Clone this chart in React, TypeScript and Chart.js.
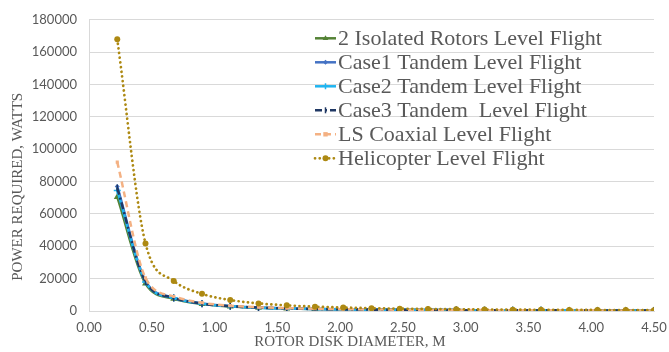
import React, { useEffect, useRef } from "react";
import { Chart, registerables } from "chart.js";

Chart.register(...registerables);

// Rotor disk diameter, m
const diameters = [
  0.225, 0.45, 0.675, 0.9, 1.125, 1.35, 1.575, 1.8, 2.025, 2.25,
  2.475, 2.7, 2.925, 3.15, 3.375, 3.6, 3.825, 4.05, 4.275, 4.5,
];

// Power required, W
const isolatedRotors = [
  70500, 17000, 7600, 4300, 2800, 2000, 1500, 1200, 980, 820,
  700, 610, 540, 480, 440, 400, 370, 350, 330, 310,
];
const case1Tandem = [
  77000, 18500, 8200, 4600, 3000, 2100, 1600, 1250, 1010, 840,
  720, 620, 550, 490, 450, 410, 380, 350, 330, 310,
];
const case2Tandem = [
  74500, 18000, 8000, 4500, 2900, 2050, 1550, 1230, 1000, 830,
  710, 615, 545, 485, 445, 405, 375, 350, 330, 310,
];
const case3Tandem = [
  76000, 18300, 8100, 4550, 2950, 2080, 1570, 1240, 1005, 835,
  715, 618, 548, 488, 448, 408, 378, 352, 332, 312,
];
const lsCoaxial = [
  92000, 20500, 9000, 5100, 3300, 2350, 1780, 1400, 1130, 940,
  800, 690, 610, 545, 490, 450, 415, 385, 360, 340,
];
const helicopter = [
  168000, 41800, 18600, 10600, 6800, 4700, 3500, 2700, 2150, 1750,
  1450, 1250, 1080, 950, 840, 760, 690, 630, 580, 540,
];

const seriesNames = [
  "2 Isolated Rotors Level Flight",
  "Case1 Tandem Level Flight",
  "Case2 Tandem Level Flight",
  "Case3 Tandem  Level Flight",
  "LS Coaxial Level Flight",
  "Helicopter Level Flight",
];
const seriesValues = [isolatedRotors, case1Tandem, case2Tandem, case3Tandem, lsCoaxial, helicopter];

const xTitle = "ROTOR DISK DIAMETER, M";
const yTitle = "POWER REQUIRED, WATTS";

type Style = {
  color: string;
  dash: number[];
  width: number;
  cap: CanvasLineCap;
  point: string;
  radius: number;
  rotation?: number;
};

const styles: Style[] = [
  { color: "#548235", dash: [], width: 2.5, cap: "butt", point: "triangle", radius: 4 },
  { color: "#4472C4", dash: [], width: 2.5, cap: "butt", point: "rectRot", radius: 2.5 },
  { color: "#1FB4F0", dash: [], width: 2.5, cap: "butt", point: "cross", radius: 3.5 },
  { color: "#203864", dash: [7, 3, 2, 3], width: 2.5, cap: "butt", point: "line", radius: 3.5, rotation: 90 },
  { color: "#F4B183", dash: [6, 4], width: 2.5, cap: "butt", point: "rect", radius: 2.2 },
  { color: "#AD8912", dash: [0.1, 4.6], width: 2.7, cap: "round", point: "circle", radius: 3 },
];

const greyText = "#595959";
const gridColor = "#D9D9D9";

function drawMarker(ctx: CanvasRenderingContext2D, s: Style, x: number, y: number) {
  const r = s.radius;
  ctx.save();
  ctx.setLineDash([]);
  ctx.fillStyle = s.color;
  ctx.strokeStyle = s.color;
  ctx.lineWidth = 1.5;
  ctx.beginPath();
  switch (s.point) {
    case "triangle":
      ctx.moveTo(x, y - r);
      ctx.lineTo(x + r * 0.95, y + r * 0.6);
      ctx.lineTo(x - r * 0.95, y + r * 0.6);
      ctx.closePath();
      ctx.fill();
      break;
    case "rectRot":
      ctx.moveTo(x, y - r);
      ctx.lineTo(x + r, y);
      ctx.lineTo(x, y + r);
      ctx.lineTo(x - r, y);
      ctx.closePath();
      ctx.fill();
      break;
    case "cross":
      ctx.moveTo(x - r, y);
      ctx.lineTo(x + r, y);
      ctx.moveTo(x, y - r);
      ctx.lineTo(x, y + r);
      ctx.stroke();
      break;
    case "line":
      ctx.moveTo(x, y - r);
      ctx.lineTo(x, y + r);
      ctx.stroke();
      break;
    case "rect":
      ctx.fillRect(x - r, y - r, r * 2, r * 2);
      break;
    default:
      ctx.arc(x, y, r, 0, Math.PI * 2);
      ctx.fill();
  }
  ctx.restore();
}

// Legend drawn inside the plot area, top-right
const insideLegend = {
  id: "insideLegend",
  afterDraw(chart: Chart) {
    const ctx = chart.ctx;
    const area = chart.chartArea;
    const x0 = area.left + 226;
    const y0 = area.top + 18.5;
    const step = 24;
    ctx.save();
    ctx.font = "22px 'Liberation Serif'";
    ctx.textBaseline = "middle";
    ctx.textAlign = "left";
    seriesNames.forEach((name, i) => {
      const s = styles[i];
      const y = y0 + i * step;
      ctx.save();
      ctx.strokeStyle = s.color;
      ctx.lineWidth = s.width;
      ctx.lineCap = s.cap;
      ctx.setLineDash(s.dash);
      ctx.beginPath();
      ctx.moveTo(x0, y);
      ctx.lineTo(x0 + 21, y);
      ctx.stroke();
      ctx.restore();
      drawMarker(ctx, { ...s, radius: Math.min(s.radius, 3) }, x0 + 10.5, y);
      ctx.fillStyle = greyText;
      ctx.fillText(name, x0 + 23, y + 1);
    });
    ctx.restore();
  },
};

// Axis titles, placed relative to the plot area
const axisTitles = {
  id: "axisTitles",
  afterDraw(chart: Chart) {
    const ctx = chart.ctx;
    const area = chart.chartArea;
    ctx.save();
    ctx.font = "15px 'Liberation Serif'";
    ctx.fillStyle = greyText;
    ctx.textAlign = "center";
    ctx.textBaseline = "middle";
    ctx.fillText(xTitle, area.left + 261, area.bottom + 31);
    ctx.translate(18, area.top + 167);
    ctx.rotate(-Math.PI / 2);
    ctx.fillText(yTitle, 0, 0);
    ctx.restore();
  },
};

export default function App() {
  const canvasRef = useRef<HTMLCanvasElement | null>(null);

  useEffect(() => {
    if (!canvasRef.current) return;
    // Reverse order so the last-listed series is painted on top
    const datasets = seriesNames
      .map((name, i) => {
        const s = styles[i];
        return {
          label: name,
          data: diameters.map((d, k) => ({ x: d, y: seriesValues[i][k] })),
          borderColor: s.color,
          backgroundColor: s.color,
          borderWidth: s.width,
          borderDash: s.dash,
          borderCapStyle: s.cap,
          pointStyle: s.point as any,
          pointRadius: s.radius,
          pointRotation: s.rotation ?? 0,
          pointBorderWidth: s.point === "cross" || s.point === "line" ? 1.5 : 0,
          pointBorderColor: s.color,
          pointBackgroundColor: s.color,
          cubicInterpolationMode: "monotone" as const,
          fill: false,
        };
      })
      .reverse();

    const chart = new Chart(canvasRef.current, {
      type: "line",
      data: { datasets },
      options: {
        animation: false,
        responsive: true,
        maintainAspectRatio: false,
        layout: { padding: { left: 0, right: 0, top: 15, bottom: 0 } },
        plugins: {
          legend: { display: false },
          tooltip: { enabled: false },
        },
        scales: {
          x: {
            type: "linear",
            min: 0,
            max: 4.5,
            grid: { display: false, drawTicks: false },
            border: { display: true, color: gridColor, width: 1 },
            ticks: {
              stepSize: 0.5,
              padding: 9,
              color: greyText,
              font: { family: "Lato", size: 13 },
              callback: (v: any) => Number(v).toFixed(2),
            },
            afterFit: (scale: any) => {
              scale.height = 41;
              scale.paddingRight = 15;
            },
          },
          y: {
            type: "linear",
            min: 0,
            max: 180000,
            grid: { color: gridColor, lineWidth: 1, drawTicks: false },
            border: { display: true, color: gridColor, width: 1 },
            ticks: {
              stepSize: 20000,
              padding: 12,
              color: greyText,
              font: { family: "Lato", size: 13 },
              callback: (v: any) => String(v),
            },
            afterFit: (scale: any) => {
              scale.width = 89;
            },
          },
        },
      },
      plugins: [insideLegend, axisTitles],
    });
    return () => chart.destroy();
  }, []);

  return (
    <div style={{ position: "absolute", left: 0, top: 0, width: 669, height: 352, background: "#fff" }}>
      <canvas ref={canvasRef} />
    </div>
  );
}
